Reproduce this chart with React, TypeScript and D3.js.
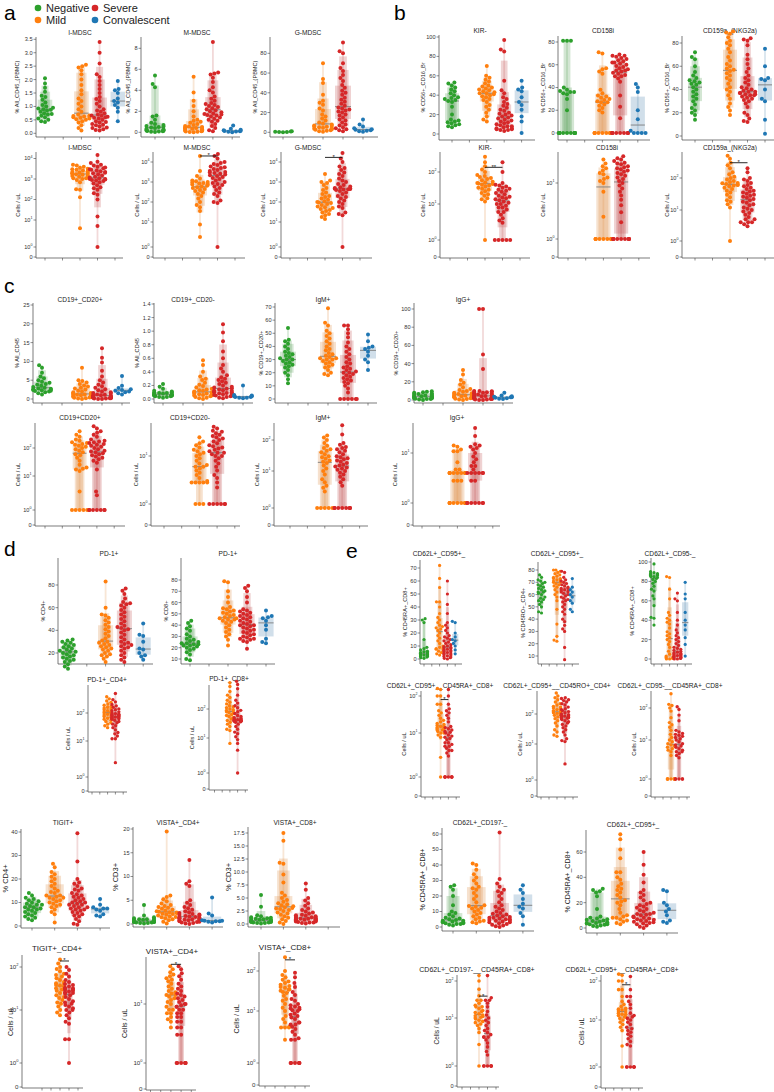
import React from "react";
import * as d3 from "d3";

const CATEGORIES = ["Negative", "Mild", "Severe", "Convalescent"];
const COLORS = ["#2ca02c", "#ff7f0e", "#d62728", "#1f77b4"];

// ---------- a: MDSC ----------
const imdscPctNeg = [0.42,0.45,0.5,0.55,0.6,0.65,0.7,0.72,0.75,0.8,0.85,0.88,0.9,0.92,0.95,1.0,1.05,1.15,1.25,1.35,1.4,1.55,1.7,1.85,2.05];
const imdscPctMild = [0.1,0.2,0.3,0.4,0.45,0.5,0.52,0.55,0.58,0.6,0.62,0.63,0.64,0.66,0.7,0.8,0.9,1.0,1.1,1.2,1.3,1.45,1.6,1.8,2.0,2.2,2.35,2.45,2.5,2.55];
const imdscPctSev = [0.1,0.12,0.15,0.2,0.22,0.25,0.3,0.32,0.35,0.4,0.42,0.45,0.5,0.55,0.58,0.6,0.62,0.65,0.66,0.7,0.75,0.8,0.85,0.9,1.0,1.1,1.2,1.28,1.35,1.5,1.65,1.8,1.95,2.1,2.2,2.6,3.0,3.4];
const imdscPctConv = [0.45,0.8,0.95,1.05,1.15,1.2,1.3,1.5,1.6,1.65,1.95];
const mmdscPctNeg = [0.02,0.05,0.08,0.1,0.12,0.15,0.18,0.2,0.25,0.3,0.35,0.4,0.45,0.5,0.55,0.6,0.7,0.8,0.9,1.2,1.5,1.6,4.3,4.6,5.4];
const mmdscPctMild = [0,0.02,0.05,0.08,0.1,0.12,0.15,0.2,0.25,0.3,0.35,0.38,0.4,0.42,0.45,0.5,0.55,0.6,0.7,0.8,0.9,1.0,1.1,1.2,1.5,2.0,2.5,3.0,3.8,5.3];
const mmdscPctSev = [0.1,0.2,0.4,0.6,0.8,1.0,1.1,1.2,1.3,1.4,1.5,1.6,1.65,1.7,1.75,1.8,1.9,2.0,2.1,2.2,2.3,2.4,2.5,2.6,2.7,2.8,3.0,3.2,3.4,3.8,4.0,4.3,4.8,5.2,5.5,5.6,5.7,8.6];
const mmdscPctConv = [0,0.05,0.08,0.1,0.12,0.15,0.2,0.25,0.35,0.65];
const gmdscPctNeg = [0,0.2,0.3,0.5,0.8,1];
const gmdscPctMild = [0.5,1,1.5,2,2.5,3,3.5,4,4.5,5,5.5,6,6.5,7,8,9,10,12,14,16,18,22,24,28,30,32,38,50,54,70];
const gmdscPctSev = [1,2,3,4,5,7,8,10,12,13,15,17,18,20,21,22,23,24,25,27,29,31,33,35,38,40,42,45,48,52,55,58,62,65,70,80,82,91];
const gmdscPctConv = [0.5,1,1.5,2,2.5,3,4,6,8,13];
const imdscCellsMild = [5,130,300,320,700,900,1000,1100,1100,1200,1300,1400,1500,1600,1700,1800,1800,1900,2000,2100,2200,2400,2600,2800,3000,3200,3500,4000,4500,5000];
const imdscCellsSev = [1,6,15,100,170,200,300,350,400,500,600,700,800,850,900,950,1000,1000,1100,1200,1300,1500,1700,1900,2000,2200,2400,2600,2800,3000,3300,3600,4000,4500,5000,6000,7000,15000];
const mmdscCellsMild = [2.5,8,35,55,70,100,150,200,250,300,350,400,450,500,550,600,650,700,750,800,850,900,950,1000,1100,1200,1500,2000,3500,20000];
const mmdscCellsSev = [1,90,100,120,200,250,300,400,500,600,700,800,900,1000,1200,1400,1600,1800,2000,2200,2400,2600,2800,3000,3200,3500,4000,4500,5000,5500,6000,7000,8000,9000,10000,15000,20000,25000];
const gmdscCellsMild = [14,18,22,25,30,35,40,45,50,55,60,70,80,90,95,100,110,130,150,180,200,250,300,400,500,700,900,1000,1200,2500];
const gmdscCellsSev = [1,22,25,30,50,60,80,100,120,150,180,200,250,300,350,400,420,440,450,460,480,500,550,600,700,800,1000,1200,1500,2000,2500,3000,4000,5000,6000,10000,15000,28000];

// ---------- b: NK ----------
const kirPctNeg = [7,8,9,10,11,12,13,14,15,20,28,33,34,35,36,37,38,40,42,44,46,48,50,52,53];
const kirPctMild = [13,15,18,22,25,28,30,33,35,36,38,39,40,41,42,42,43,44,45,46,47,48,49,50,52,54,56,58,60,70];
const kirPctSev = [3,4,4,5,5,6,6,7,8,8,9,10,11,12,13,14,15,16,17,18,19,20,21,22,24,25,27,29,31,33,36,38,42,45,55,85,87,97];
const kirPctConv = [1,13,18,25,30,33,38,44,46,48,55];
const cd158iPctNeg = [0,0,0,0,0,0,0,0,0,0,0,0,0,20,30,34,35,36,36,37,38,40,81,81,81];
const cd158iPctMild = [0,0,0,0,0,0,0,0,0,18,20,22,24,25,27,27,28,29,30,31,32,33,35,38,52,54,56,57,70,71];
const cd158iPctSev = [0,0,0,0,0,0,0,0,0,13,23,33,45,48,50,50,51,52,53,54,55,55,56,57,58,59,60,61,62,62,63,64,65,66,67,68,68,69];
const cd158iPctConv = [0,0,0,0,2,12,20,36,40,43];
const nkg2aPctNeg = [14,18,20,22,24,27,30,32,34,36,38,40,42,44,45,46,47,48,50,52,55,60,66,68,72];
const nkg2aPctMild = [18,22,25,28,32,35,38,40,42,45,48,50,52,54,56,57,58,60,62,65,68,72,75,78,80,82,85,88,89,90];
const nkg2aPctSev = [12,13,15,18,20,25,28,30,31,32,33,34,35,35,36,36,37,37,38,38,39,40,41,42,44,46,48,50,52,55,58,62,66,70,78,82,83,84];
const nkg2aPctConv = [2,14,30,32,40,48,49,50,60,75];
const kirCellsMild = [1,12,14,15,18,20,22,25,28,30,32,35,38,40,42,44,45,47,50,55,60,65,70,75,80,100,120,150,200,300];
const kirCellsSev = [1,1,1,1,1,3,3.5,4,5,6,6,7,8,8,9,10,10,11,12,13,14,15,16,17,18,20,22,24,26,28,30,32,35,38,40,45,100,200];
const cd158iCellsMild = [1,1,1,1,1,1,1,1,1,2.5,7,10,11,12,13,15,16,18,20,22,25,30];
const cd158iCellsSev = [1,1,1,1,1,1,1,1,1,1,2,3,4,5,6,7,8,9,10,11,12,13,14,15,16,17,18,19,20,21,22,24,25,26,28,30,32,35];
const nkg2aCellsMild = [1,12,15,18,20,25,30,35,40,45,50,55,58,60,62,65,68,70,75,80,90,100,110,130,150,200,250,300,400,500];
const nkg2aCellsSev = [3,3.5,4,4,4,5,5,6,7,8,9,10,11,12,14,15,17,18,20,22,24,26,28,30,32,35,38,40,45,50,55,60,70,80,90,100,150,200];

// ---------- c: B cells ----------
const cd20posPctNeg = [1.2,1.5,1.8,2,2.1,2.2,2.3,2.4,2.5,2.6,2.7,2.8,3,3.2,3.5,3.8,4,4.3,4.6,5,5.5,6,7,8.3,9];
const cd20posPctMild = [0,0.1,0.2,0.3,0.4,0.5,0.6,0.7,0.8,0.9,1,1.1,1.2,1.3,1.3,1.4,1.6,1.8,2,2.2,2.5,2.8,3,3.3,3.6,4,4.4,4.8,5,8.3];
const cd20posPctSev = [0,0,0.1,0.1,0.2,0.2,0.3,0.3,0.4,0.4,0.5,0.5,0.6,0.6,0.7,0.7,0.8,0.8,0.9,1,1.1,1.2,1.4,1.6,1.8,2,2.3,2.6,3,3.4,3.8,4.4,5,6,7.5,9.7,11,13.5];
const cd20posPctConv = [1.2,1.5,1.8,2,2.2,2.4,2.6,2.9,3.5,6.1];
const cd20negPctNeg = [0.02,0.03,0.03,0.04,0.04,0.05,0.05,0.05,0.06,0.06,0.06,0.07,0.07,0.07,0.08,0.08,0.09,0.09,0.1,0.1,0.11,0.12,0.15,0.18,0.22];
const cd20negPctMild = [0,0.01,0.02,0.03,0.04,0.05,0.05,0.06,0.07,0.07,0.08,0.08,0.09,0.1,0.1,0.11,0.12,0.13,0.14,0.15,0.17,0.19,0.21,0.24,0.28,0.3,0.33,0.4,0.5,0.57];
const cd20negPctSev = [0.01,0.02,0.03,0.04,0.05,0.05,0.06,0.07,0.08,0.08,0.09,0.1,0.1,0.11,0.12,0.12,0.13,0.14,0.15,0.16,0.17,0.18,0.2,0.22,0.24,0.26,0.28,0.3,0.32,0.35,0.4,0.45,0.5,0.6,0.7,0.85,0.98,1.1];
const cd20negPctConv = [0.01,0.02,0.02,0.03,0.03,0.04,0.04,0.05,0.06,0.2];
const igmPctNeg = [12,15,18,20,22,24,25,26,27,28,29,30,30,31,32,33,34,35,36,38,40,42,44,45,54];
const igmPctMild = [18,19,20,22,24,25,26,27,28,29,30,30,31,31,32,33,34,35,37,38,40,42,44,46,48,50,52,56,58,69];
const igmPctSev = [0,0,0,0,0,0,5,8,10,12,13,14,15,16,17,18,19,20,20,21,22,23,24,25,27,28,30,32,34,36,38,40,43,47,50,53,56,56];
const igmPctConv = [22,28,30,33,36,38,39,40,44,49];
const iggPctNeg = [0,0.5,1,1,1.5,2,2,2.5,3,3,3.5,4,4,4.5,5,5,5.5,6,6.5,7,7.5,8,8.5,9,9.5];
const iggPctMild = [0,0.5,1,1.5,2,2.5,3,3,3.5,4,4,4.5,5,5,5.5,6,6.5,7,7.5,8,9,10,11,12,14,17,19,22,28,33];
const iggPctSev = [0,0,0.5,0.5,1,1,1.5,1.5,2,2,2.5,2.5,3,3,3.5,3.5,4,4,4.5,5,5,5.5,6,6.5,7,7.5,8,8.5,9,9,9.5,10,10,34,50,100,100];
const iggPctConv = [1,1.5,2,2.5,3,3,3.5,4,5,8];
const cd20posCellsMild = [1,1,1,1,1,3.5,15,17,18,20,25,35,45,55,60,70,80,90,100,110,120,130,140,150,160,180,200,250,300,400];
const cd20posCellsSev = [1,1,1,1,1,1,1,2.7,3.5,17,30,35,40,45,50,55,60,65,70,75,80,90,100,110,120,130,140,150,160,170,180,200,250,300,350,400,500,600];
const cd20negCellsMild = [1,1,1,2.8,2.8,2.8,2.8,2.8,3,3.5,4,4.5,5,5.5,6,6,6.5,7,8,9,10,11,12,13,14,16,18,20,22,28];
const cd20negCellsSev = [1,1,1,1,1,1,2.2,2.8,3.5,4,5,6,7,8,9,10,10,11,12,12,13,14,15,16,17,18,20,22,24,26,28,30,32,35,38,40,45,50];
const igmCellsMild = [1,1,1,1,1,2.8,3.5,4,5,6,8,10,12,15,18,20,22,25,28,30,35,40,45,50,55,65,80,100,120,140];
const igmCellsSev = [1,1,1,1,1,1,1,1,4,5,6,7,8,9,10,11,12,13,14,15,16,18,20,22,24,26,28,30,35,40,45,50,55,60,70,80,150,300];
const iggCellsMild = [1,1,1,1,1,1,1,1,1,1,2.8,2.8,2.8,4,4,4,4,4,4,4,4,4,4.7,4.7,6.5,11,11,12,14,15];
const iggCellsSev = [1,1,1,1,1,1,1,2.8,2.8,4,4,4,4,4,4,4.7,5.5,5.5,6.5,7.5,8.5,10,12,13,14,15,16,25,38];

// ---------- d: checkpoints ----------
const pd1Cd4PctNeg = [6,8,10,12,13,14,15,16,17,18,19,20,21,21,22,23,24,25,26,27,28,29,30,31,32];
const pd1Cd4PctMild = [12,15,17,18,19,20,22,23,24,25,26,27,28,29,30,31,33,35,37,39,41,43,45,47,49,51,53,54,60,83];
const pd1Cd4PctSev = [12,14,16,18,20,22,24,25,26,27,28,29,30,32,34,36,38,40,41,42,43,44,46,48,50,52,54,56,58,60,62,63,64,65,68,72,75,77];
const pd1Cd4PctConv = [14,17,18,20,23,24,30,35,36,46];
const pd1Cd8PctNeg = [9,10,14,16,18,19,20,21,22,22,23,23,24,24,25,26,27,28,30,32,35,37,39,42,44];
const pd1Cd8PctMild = [22,27,30,32,34,36,38,40,42,43,44,45,45,46,46,47,48,49,50,51,52,53,54,55,56,60,65,70,78,79];
const pd1Cd8PctSev = [19,25,26,27,28,28,29,30,31,32,33,34,35,36,37,38,39,40,40,41,42,43,44,45,46,47,48,49,50,51,52,53,54,60,65,70,73,75];
const pd1Cd8PctConv = [24,25,28,36,40,44,46,47,48,53];
const pd1Cd4CellsMild = [30,35,40,45,50,55,60,65,70,75,80,85,90,95,100,105,110,115,120,130,140,150,160,170,190,210,240,270,320,380];
const pd1Cd4CellsSev = [2.5,12,12,15,18,20,25,30,35,40,45,50,55,60,62,65,68,70,72,75,78,80,82,85,88,90,95,100,110,120,130,140,160,180,200,250,300,500];
const pd1Cd8CellsMild = [7,18,20,25,30,35,40,45,50,55,60,65,70,75,80,85,90,95,100,110,120,130,150,170,200,250,300,400,600,800];
const pd1Cd8CellsSev = [1,4.5,7,9,11,14,16,20,25,30,35,36,38,38,39,40,40,41,41,42,42,43,45,48,50,55,60,70,80,90,110,130,160,200,300,500,700,900];
const tigitPctNeg = [2.5,3,3.5,4,4.5,5,5.5,6,6.5,7,7,7.5,8,8,8.5,9,9,9.5,10,10.5,11,11.5,12,13,14];
const tigitPctMild = [1.5,5,6,7,8,8.5,9,9.5,10,10.5,11,11.5,12,12,12.5,13,13,14,14.5,15,16,17,18,19,20,21,22,23,25,26.5];
const tigitPctSev = [0.5,1,2,3,4,4.5,5,5.5,6,6.5,7,7,7.5,8,8,8.5,9,9,9.5,10,10,10.5,11,11.5,12,12.5,13,13.5,14,15,15.5,16,17,18,18.5,20,27.5,39.5];
const tigitPctConv = [4,4.5,5,6.5,7,7.5,7.5,8,9,11.5];
const vistaCd4PctNeg = [0.1,0.2,0.2,0.3,0.3,0.4,0.4,0.5,0.5,0.5,0.6,0.6,0.6,0.7,0.7,0.8,0.8,0.9,1,1,1.1,1.2,1.4,1.8,4];
const vistaCd4PctMild = [0.1,0.5,0.8,1,1.2,1.4,1.5,1.6,1.8,2,2.1,2.2,2.3,2.4,2.5,2.6,2.7,2.8,3,3.2,3.4,3.6,3.8,4,4.3,4.8,5.2,5.7,6,19.5];
const vistaCd4PctSev = [0,0.1,0.2,0.3,0.4,0.5,0.6,0.7,0.8,0.8,0.9,1,1,1.1,1.2,1.2,1.3,1.4,1.5,1.6,1.7,1.8,1.9,2,2.1,2.3,2.5,2.7,3,3.3,3.6,4,4.5,5,8,8.5,9,13.5];
const vistaCd4PctConv = [0.3,0.5,0.6,0.6,0.7,0.7,0.8,1.8,2.2,5.6];
const vistaCd8PctNeg = [0.1,0.2,0.2,0.3,0.3,0.4,0.4,0.5,0.5,0.6,0.6,0.7,0.7,0.8,0.8,0.9,1,1,1.1,1.2,1.3,1.5,1.7,3.3,5.6];
const vistaCd8PctMild = [0,0.3,0.6,0.9,1.2,1.5,1.8,2,2.2,2.5,2.7,2.9,3,3.1,3.2,3.4,3.6,3.8,4,4.3,4.6,5,5.5,6,8,9.5,11.6,11.8,16,17.5];
const vistaCd8PctSev = [0.1,0.2,0.3,0.3,0.4,0.5,0.5,0.6,0.6,0.7,0.7,0.8,0.8,0.9,0.9,1,1,1,1.1,1.2,1.2,1.3,1.4,1.5,1.6,1.7,1.8,2,2.2,2.4,2.7,3,3.5,4,4.5,5,6.6,7.8];
const tigitCellsMild = [8,9,10,12,14,15,17,19,20,22,25,28,30,32,35,37,38,40,42,45,50,55,60,65,70,80,90,100,120,150];
const tigitCellsSev = [1,2.8,2.8,5.5,6,7,8,9,10,10,11,12,13,14,15,16,18,20,22,24,25,26,27,28,29,30,31,32,33,35,38,40,45,50,60,70,85,100];
const vistaCd4CellsMild = [4,5,5.5,6,7,7,8,8,9,10,11,12,13,14,15,15,16,17,18,20,22,25,28,30,32,35,38,42,48,55];
const vistaCd4CellsSev = [1,1,1,1,1,1,3,3,4,4,5,5,6,6,7,7,8,8,9,9,9.5,10,10,11,12,13,14,15,16,18,20,22,25,30,35,40,48,55];
const vistaCd8CellsMild = [2.8,4.8,4.8,4.8,5,6,7,8,10,12,15,18,20,24,28,30,32,34,35,38,40,42,45,50,55,60,70,80,100,220];
const vistaCd8CellsSev = [1,1,1,1,1,1,2.8,2.8,3,3.5,4,4.5,5,5.5,5.5,6,6,7,7.5,8,8.5,9,10,10.5,11,11.5,12,13,14,15,18,20,25,30,40,50,70,90];

// ---------- e: memory subsets ----------
const cd95posRaPctNeg = [0.5,1,1.5,2,2,2.5,2.5,3,3,3.5,3.5,4,4,4.5,5,5,5.5,6,7,8,9,15,28,30,31];
const cd95posRaPctMild = [3,4,5,6,7,7.5,8,8,9,10,12,14,16,18,20,22,23,24,25,26,28,30,32,35,40,44,44,55,62,72];
const cd95posRaPctSev = [0,0.5,1,1.5,2,2.5,3,3.5,4,4.5,5,5.5,6,6.5,7,7.5,8,8.5,9,9.5,10,11,12,13,14,15,16,17,18,20,22,24,26,28,35,42,50,60];
const cd95posRaPctConv = [4,7,10,12,14,15,17,20,28,29];
const cd95posRoPctNeg = [45,46,50,52,54,55,56,57,58,60,61,62,62,63,64,65,66,67,68,69,70,71,72,74,76];
const cd95posRoPctMild = [22,23,26,36,48,55,58,60,62,64,66,67,68,69,70,70,71,71,72,72,73,73,74,75,76,77,78,79,80,80];
const cd95posRoPctSev = [7,17,30,32,35,38,40,44,46,48,50,52,54,55,56,57,58,59,60,61,62,62,63,63,64,64,65,65,66,67,68,69,70,71,72,74,78,79];
const cd95posRoPctConv = [46,48,53,55,58,60,62,64,66,73];
const cd95negRaPctNeg = [35,42,43,55,62,65,70,72,75,78,80,82,83,84,85,85,86,86,87,87,88,88,89,90,98];
const cd95negRaPctMild = [0,0,0.5,1,1,1.5,2,2,3,5,8,12,15,18,20,22,24,26,28,32,36,38,40,42,45,48,62,72,84,85];
const cd95negRaPctSev = [0,0,0.5,1,1,1.5,2,2,2.5,3,3,3.5,4,4.5,5,5.5,6,6.5,7,8,9,10,11,12,14,16,18,20,22,24,27,30,35,40,48,60,62,68];
const cd95negRaPctConv = [3,15,22,30,35,40,48,62,67,79];
const cd95posRaCellsMild = [1,2.8,8,9,10,10,11,12,12,13,13,14,14,15,15,16,17,18,20,22,25,30,35,40,60,60,100,100,150,160];
const cd95posRaCellsSev = [1,1,1,1,1,1,1,3,3.5,4,4,4.5,5,5,5.5,6,6,7,7.5,8,8.5,9,10,10.5,11,12,13,14,15,20,25,30,35,40,45,60,100,150];
const cd95posRoCellsMild = [18,20,25,30,40,50,60,70,80,90,95,100,105,110,115,120,125,130,140,150,160,170,180,200,220,250,300,350,400,500];
const cd95posRoCellsSev = [2.8,12,13,15,20,25,30,35,40,45,50,55,60,65,70,72,75,78,80,82,85,88,90,95,100,110,120,130,140,150,170,200,220,250,280,300,330,350];
const cd95negRaCellsMild = [1,1,1,1,1,1,1,1,4,5,5.5,6,6.5,7,7.5,8,9,10,12,15,20,25,30,35,50,80,100,120,130,280];
const cd95negRaCellsSev = [1,1,1,1,1,3.5,4,4.5,5,5,5.5,6,6.5,7,7.5,8,9,10,11,12,13,14,15,16,18,20,40,60,90,110];
const cd197negRaPctNeg = [1,1.5,2,2,2.5,2.5,3,3,3.5,3.5,4,4,4.5,5,5.5,6,7,8,9,10,14,20,24,26,27];
const cd197negRaPctMild = [2.5,3,3.5,4,5,6,7,8,9,10,11,12,12.5,13,13.5,14,16,18,20,22,24,25,26,28,30,32,34,37,40,41];
const cd197negRaPctSev = [0,0.5,1,1.5,2,2.5,3,3,3.5,4,4,4.5,5,5,5.5,6,6,6.5,7,7.5,8,8.5,9,10,11,12,13,14,16,18,20,22,23,24,26,28,31,61];
const cd197negRaPctConv = [1.5,7,9,12,13,15,18,22,24,27];
const cd95posRa2PctNeg = [1,1.5,2,2.5,3,3,3.5,3.5,4,4,4.5,5,5.5,6,6.5,7,7.5,8,9,15,25,28,29,30,31];
const cd95posRa2PctMild = [3,4,5,6,7,8,8,9,10,12,15,18,20,21,22,24,26,28,30,31,33,35,38,40,44,44,55,62,70,74];
const cd95posRa2PctSev = [0,1,2,3,3.5,4,4.5,5,5.5,6,6.5,7,7.5,8,8.5,9,10,10.5,11,11,12,13,14,15,16,17,18,19,20,22,24,26,28,30,36,42,50,60];
const cd95posRa2PctConv = [4,5,6,10,13,15,18,20,29,30];
const cd197negRaCellsMild = [1,2.8,5,6,7,7.5,8,8.5,9,9.5,10,10.5,11,11.5,12,13,14,15,16,18,20,20,22,25,30,30,40,60,100,140];
const cd197negRaCellsSev = [1,1,1,1,1,1,1.7,2,2.5,3,3.5,4,4,4,4.5,5,5.5,6,7,8,9,10,12,15,20,25,30,30,35,140];
const cd95posRa2CellsMild = [1,2.8,6,7,8,9,10,11,12,12,13,14,14,15,16,17,18,18,19,20,22,25,30,40,60,60,100,100,140,150];
const cd95posRa2CellsSev = [1,1,1,1,1,1,2.8,3,3.5,4,4.5,5,5.5,6,6.5,7,8,9,10,11,12,13,15,20,25,30,40,40,60,130];

// ---------- panel table ----------
type Grp = [number, number, number[]];
type Panel = {
  t: string; tx: number; ty: number; tf?: number;
  yl: string; lx: number; lf?: number; kf?: number;
  ax: number; xr: number; yt: number; yb: number;
  s0: number; ds: number; n: number; r?: number;
  lin?: [number, number, number, number]; ticks?: number[]; dec?: number;
  log?: [number, number, number, number]; exps?: number[];
  g: Grp[]; sig?: [number, string];
};

const five = (a: number[], b: number[], c: number[], d: number[]): Grp[] => [[0, 0, a], [1, 2, b], [2, 3, c], [3, 4, d]];
const four = (a: number[], b: number[], c: number[], d?: number[]): Grp[] =>
  d ? [[0, 0, a], [1, 1, b], [2, 2, c], [3, 3, d]] : [[0, 0, a], [1, 1, b], [2, 2, c]];
const two = (b: number[], c: number[]): Grp[] => [[1, 2, b], [2, 3, c]];
const CELLS = "Cells / uL";

const PANELS: Panel[] = [
  // a top
  { t: "I-MDSC", tx: 80, ty: 35, yl: "% All_CD45_(PBMC)", lx: 17, ax: 36, xr: 130, yt: 37, yb: 137, s0: 45, ds: 18.2, n: 5,
    lin: [0, 133.3, 3.5, 39.3], ticks: [0, 0.5, 1, 1.5, 2, 2.5, 3, 3.5], dec: 1, g: five(imdscPctNeg, imdscPctMild, imdscPctSev, imdscPctConv) },
  { t: "M-MDSC", tx: 197, ty: 35, yl: "% All_CD45_(PBMC)", lx: 128, ax: 141, xr: 240, yt: 37, yb: 137, s0: 155, ds: 19.3, n: 5,
    lin: [0, 132.3, 8, 48.3], ticks: [0, 2, 4, 6, 8], dec: 0, g: five(mmdscPctNeg, mmdscPctMild, mmdscPctSev, mmdscPctConv) },
  { t: "G-MDSC", tx: 308, ty: 35, yl: "% All_CD45_(PBMC)", lx: 255, ax: 270, xr: 378, yt: 37, yb: 137, s0: 283, ds: 20, n: 5,
    lin: [0, 132.3, 80, 53.3], ticks: [0, 20, 40, 60, 80], dec: 0, g: five(gmdscPctNeg, gmdscPctMild, gmdscPctSev, gmdscPctConv) },
  // a bottom
  { t: "I-MDSC", tx: 80, ty: 150, yl: CELLS, lx: 18, ax: 36, xr: 123, yt: 152, yb: 258, s0: 45, ds: 17.5, n: 5,
    log: [257, 247, 220, 199.5], exps: [0, 1, 2, 3, 4], g: two(imdscCellsMild, imdscCellsSev) },
  { t: "M-MDSC", tx: 197, ty: 150, yl: CELLS, lx: 137, ax: 153, xr: 245, yt: 152, yb: 258, s0: 165, ds: 17.5, n: 5,
    log: [257, 247, 222, 202], exps: [0, 1, 2, 3, 4], g: two(mmdscCellsMild, mmdscCellsSev), sig: [20000, "*"] },
  { t: "G-MDSC", tx: 308, ty: 150, yl: CELLS, lx: 263, ax: 281, xr: 372, yt: 152, yb: 258, s0: 290, ds: 17.5, n: 5,
    log: [257, 247, 222, 202], exps: [0, 1, 2, 3, 4], g: two(gmdscCellsMild, gmdscCellsSev), sig: [17000, "*"] },
  // b top
  { t: "KIR-", tx: 480, ty: 33, yl: "% CD56+_CD16_Br", lx: 423, ax: 439, xr: 535, yt: 35, yb: 140, s0: 452, ds: 17.4, n: 5,
    lin: [0, 134, 100, 37], ticks: [0, 20, 40, 60, 80, 100], dec: 0, g: five(kirPctNeg, kirPctMild, kirPctSev, kirPctConv) },
  { t: "CD158i", tx: 603, ty: 33, yl: "% CD56+_CD16_Br", lx: 543, ax: 558, xr: 650, yt: 36, yb: 140, s0: 567, ds: 17.7, n: 5,
    lin: [0, 133, 80, 42], ticks: [0, 20, 40, 60, 80], dec: 0, g: five(cd158iPctNeg, cd158iPctMild, cd158iPctSev, cd158iPctConv) },
  { t: "CD159a_(NKG2a)", tx: 730, ty: 33, yl: "% CD56+_CD16_Br", lx: 667, ax: 682, xr: 775, yt: 36, yb: 140, s0: 695, ds: 17.5, n: 5,
    lin: [0, 136, 80, 43], ticks: [0, 20, 40, 60, 80], dec: 0, g: five(nkg2aPctNeg, nkg2aPctMild, nkg2aPctSev, nkg2aPctConv) },
  // b bottom
  { t: "KIR-", tx: 485, ty: 150, yl: CELLS, lx: 423, ax: 440, xr: 530, yt: 152, yb: 258, s0: 450, ds: 17.5, n: 5,
    log: [257, 240, 204, 172], exps: [0, 1, 2], g: two(kirCellsMild, kirCellsSev), sig: [140, "**"] },
  { t: "CD158i", tx: 607, ty: 150, yl: CELLS, lx: 543, ax: 558, xr: 650, yt: 152, yb: 258, s0: 568, ds: 17.7, n: 5,
    log: [257, 239, 183, 134], exps: [0, 1], g: two(cd158iCellsMild, cd158iCellsSev) },
  { t: "CD159a_(NKG2a)", tx: 730, ty: 150, yl: CELLS, lx: 667, ax: 682, xr: 775, yt: 152, yb: 258, s0: 695, ds: 17.5, n: 5,
    log: [257, 241, 210, 178], exps: [0, 1, 2], g: two(nkg2aCellsMild, nkg2aCellsSev), sig: [300, "*"] },
  // c top
  { t: "CD19+_CD20+", tx: 80, ty: 302, yl: "% All_CD45", lx: 17, ax: 33, xr: 130, yt: 303, yb: 403, s0: 42, ds: 20, n: 5,
    lin: [0, 399, 25, 305], ticks: [0, 5, 10, 15, 20, 25], dec: 0, g: five(cd20posPctNeg, cd20posPctMild, cd20posPctSev, cd20posPctConv) },
  { t: "CD19+_CD20-", tx: 193, ty: 302, yl: "% All_CD45", lx: 137, ax: 154, xr: 253, yt: 303, yb: 403, s0: 163, ds: 20, n: 5,
    lin: [0, 399, 1.4, 304], ticks: [0, 0.2, 0.4, 0.6, 0.8, 1.0, 1.2, 1.4], dec: 1, g: five(cd20negPctNeg, cd20negPctMild, cd20negPctSev, cd20negPctConv) },
  { t: "IgM+", tx: 323, ty: 302, yl: "% CD19+_CD20+", lx: 261, ax: 275, xr: 377, yt: 303, yb: 403, s0: 288, ds: 20, n: 5,
    lin: [0, 399, 70, 307], ticks: [0, 10, 20, 30, 40, 50, 60, 70], dec: 0, g: five(igmPctNeg, igmPctMild, igmPctSev, igmPctConv) },
  { t: "IgG+", tx: 463, ty: 302, yl: "% CD19+_CD20+", lx: 396, ax: 414, xr: 513, yt: 303, yb: 403, s0: 423, ds: 20, n: 5,
    lin: [0, 400, 100, 309], ticks: [0, 20, 40, 60, 80, 100], dec: 0, g: five(iggPctNeg, iggPctMild, iggPctSev, iggPctConv) },
  // c bottom
  { t: "CD19+CD20+", tx: 80, ty: 420, yl: CELLS, lx: 18, ax: 35, xr: 125, yt: 423, yb: 526, s0: 45, ds: 17.3, n: 5,
    log: [525, 510, 476, 448], exps: [0, 1, 2], g: two(cd20posCellsMild, cd20posCellsSev) },
  { t: "CD19+CD20-", tx: 190, ty: 420, yl: CELLS, lx: 136, ax: 151, xr: 240, yt: 423, yb: 526, s0: 164, ds: 17.7, n: 5,
    log: [525, 504, 456, 414], exps: [0, 1], g: two(cd20negCellsMild, cd20negCellsSev) },
  { t: "IgM+", tx: 323, ty: 420, yl: CELLS, lx: 257, ax: 274, xr: 368, yt: 423, yb: 526, s0: 290, ds: 17.4, n: 5,
    log: [525, 508, 471, 440], exps: [0, 1, 2], g: two(igmCellsMild, igmCellsSev) },
  { t: "IgG+", tx: 457, ty: 420, yl: CELLS, lx: 395, ax: 413, xr: 500, yt: 423, yb: 526, s0: 422, ds: 17.7, n: 5,
    log: [525, 503, 453, 410], exps: [0, 1], g: two(iggCellsMild, iggCellsSev) },
  // d top
  { t: "PD-1+", tx: 109, ty: 556, yl: "% CD4+", lx: 43, ax: 58, xr: 153, yt: 558, yb: 664, s0: 68, ds: 18.8, n: 5,
    lin: [20, 653, 80, 585], ticks: [20, 40, 60, 80], dec: 0, g: five(pd1Cd4PctNeg, pd1Cd4PctMild, pd1Cd4PctSev, pd1Cd4PctConv) },
  { t: "PD-1+", tx: 228, ty: 556, yl: "% CD8+", lx: 166, ax: 181, xr: 275, yt: 558, yb: 664, s0: 190, ds: 19, n: 5,
    lin: [10, 659, 80, 580], ticks: [10, 20, 30, 40, 50, 60, 70, 80], dec: 0, g: five(pd1Cd8PctNeg, pd1Cd8PctMild, pd1Cd8PctSev, pd1Cd8PctConv) },
  // d middle
  { t: "PD-1+_CD4+", tx: 107, ty: 682, yl: CELLS, lx: 68, ax: 88, xr: 127, yt: 685, yb: 792, s0: 92, ds: 7.8, n: 5, r: 1.7,
    log: [791, 777, 741, 713], exps: [0, 1, 2], g: two(pd1Cd4CellsMild, pd1Cd4CellsSev) },
  { t: "PD-1+_CD8+", tx: 229, ty: 681, yl: CELLS, lx: 192, ax: 209, xr: 248, yt: 685, yb: 790, s0: 214.5, ds: 7.7, n: 5, r: 1.7,
    log: [789, 773, 738, 709], exps: [0, 1, 2], g: two(pd1Cd8CellsMild, pd1Cd8CellsSev) },
  // d lower
  { t: "TIGIT+", tx: 63, ty: 825, yl: "% CD4+", lx: 5, lf: 7.5, ax: 21, xr: 110, yt: 829, yb: 928, s0: 32, ds: 22.7, n: 4,
    lin: [0, 926, 40, 832], ticks: [0, 10, 20, 30, 40], dec: 0, g: four(tigitPctNeg, tigitPctMild, tigitPctSev, tigitPctConv) },
  { t: "VISTA+_CD4+", tx: 178, ty: 825, yl: "% CD3+", lx: 115, lf: 7.5, ax: 133, xr: 223, yt: 827, yb: 927, s0: 144, ds: 22.7, n: 4,
    lin: [0, 924, 20, 829], ticks: [0, 5, 10, 15, 20], dec: 0, g: four(vistaCd4PctNeg, vistaCd4PctMild, vistaCd4PctSev, vistaCd4PctConv) },
  { t: "VISTA+_CD8+", tx: 295, ty: 825, yl: "% CD3+", lx: 228, lf: 7.5, ax: 248, xr: 340, yt: 827, yb: 927, s0: 261, ds: 22.4, n: 4,
    lin: [0, 924, 17.5, 833], ticks: [0, 2.5, 5, 7.5, 10, 12.5, 15, 17.5], dec: 1, g: four(vistaCd8PctNeg, vistaCd8PctMild, vistaCd8PctSev) },
  // d bottom
  { t: "TIGIT+_CD4+", tx: 57, ty: 951, tf: 8, yl: CELLS, lx: 11, lf: 7, kf: 6.2, ax: 22, xr: 83, yt: 955, yb: 1088, s0: 42, ds: 9, n: 5, r: 2,
    log: [1087, 1063, 1010, 967], exps: [0, 1, 2], g: two(tigitCellsMild, tigitCellsSev), sig: [138, "*"] },
  { t: "VISTA+_CD4+", tx: 172, ty: 954, tf: 8, yl: CELLS, lx: 125, lf: 7, kf: 6.2, ax: 146, xr: 196, yt: 957, yb: 1090, s0: 150.5, ds: 10.2, n: 5, r: 2,
    log: [1089, 1063, 1004, 953], exps: [0, 1], g: two(vistaCd4CellsMild, vistaCd4CellsSev), sig: [60, "*"] },
  { t: "VISTA+_CD8+", tx: 285, ty: 950, tf: 8, yl: CELLS, lx: 237, lf: 7, kf: 6.2, ax: 259, xr: 310, yt: 952, yb: 1086, s0: 265, ds: 10, n: 5, r: 2,
    log: [1085, 1063, 1011, 971], exps: [0, 1, 2], g: two(vistaCd8CellsMild, vistaCd8CellsSev), sig: [190, "*"] },
  // e top
  { t: "CD62L+_CD95+_", tx: 439, ty: 556, yl: "% CD45RA+_CD8+", lx: 405, ax: 420, xr: 462, yt: 560, yb: 664, s0: 424, ds: 7.8, n: 5, r: 1.6,
    lin: [0, 659, 70, 568], ticks: [0, 10, 20, 30, 40, 50, 60, 70], dec: 0, g: five(cd95posRaPctNeg, cd95posRaPctMild, cd95posRaPctSev, cd95posRaPctConv) },
  { t: "CD62L+_CD95+_", tx: 557, ty: 556, yl: "% CD45RO+_CD4+", lx: 523, ax: 538, xr: 579, yt: 562, yb: 664, s0: 541.5, ds: 7.7, n: 5, r: 1.6,
    lin: [10, 656, 80, 570], ticks: [10, 20, 30, 40, 50, 60, 70, 80], dec: 0, g: five(cd95posRoPctNeg, cd95posRoPctMild, cd95posRoPctSev, cd95posRoPctConv) },
  { t: "CD62L+_CD95-_", tx: 670, ty: 556, yl: "% CD45RA+_CD8+", lx: 632, ax: 651, xr: 692, yt: 558, yb: 664, s0: 654, ds: 7.8, n: 5, r: 1.6,
    lin: [0, 659, 100, 562], ticks: [0, 20, 40, 60, 80, 100], dec: 0, g: five(cd95negRaPctNeg, cd95negRaPctMild, cd95negRaPctSev, cd95negRaPctConv) },
  // e second row
  { t: "CD62L+_CD95+__CD45RA+_CD8+", tx: 440, ty: 688, yl: CELLS, lx: 404, ax: 421, xr: 460, yt: 691, yb: 797, s0: 425, ds: 7.8, n: 5, r: 1.7,
    log: [796, 777, 733, 696], exps: [0, 1, 2], g: two(cd95posRaCellsMild, cd95posRaCellsSev), sig: [80, "*"] },
  { t: "CD62L+_CD95+__CD45RO+_CD4+", tx: 557, ty: 688, yl: CELLS, lx: 520, ax: 537, xr: 578, yt: 691, yb: 797, s0: 541, ds: 8, n: 5, r: 1.7,
    log: [796, 780, 744, 714], exps: [0, 1, 2], g: two(cd95posRoCellsMild, cd95posRoCellsSev) },
  { t: "CD62L+_CD95-__CD45RA+_CD8+", tx: 670, ty: 688, yl: CELLS, lx: 634, ax: 651, xr: 690, yt: 691, yb: 797, s0: 655, ds: 8, n: 5, r: 1.7,
    log: [796, 779, 740, 708], exps: [0, 1, 2], g: two(cd95negRaCellsMild, cd95negRaCellsSev) },
  // e middle
  { t: "CD62L+_CD197-_", tx: 480, ty: 825, yl: "% CD45RA+_CD8+", lx: 423, lf: 7, ax: 442, xr: 534, yt: 828, yb: 931, s0: 453, ds: 23.3, n: 4,
    lin: [0, 927, 60, 834], ticks: [0, 10, 20, 30, 40, 50, 60], dec: 0, g: four(cd197negRaPctNeg, cd197negRaPctMild, cd197negRaPctSev, cd197negRaPctConv) },
  { t: "CD62L+_CD95+_", tx: 633, ty: 827, yl: "% CD45RA+_CD8+", lx: 568, lf: 7, ax: 586, xr: 678, yt: 830, yb: 933, s0: 597, ds: 23.3, n: 4,
    lin: [0, 928, 60, 852], ticks: [0, 20, 40, 60], dec: 0, g: four(cd95posRa2PctNeg, cd95posRa2PctMild, cd95posRa2PctSev, cd95posRa2PctConv) },
  // e bottom
  { t: "CD62L+_CD197-__CD45RA+_CD8+", tx: 477, ty: 972, tf: 7, yl: CELLS, lx: 437, lf: 6.5, ax: 457, xr: 499, yt: 975, yb: 1087, s0: 462, ds: 8.5, n: 5, r: 1.8,
    log: [1086, 1066, 1018, 981], exps: [0, 1, 2], g: two(cd197negRaCellsMild, cd197negRaCellsSev), sig: [39, "*"] },
  { t: "CD62L+_CD95+__CD45RA+_CD8+", tx: 622, ty: 972, tf: 7, yl: CELLS, lx: 582, lf: 6.5, ax: 601, xr: 643, yt: 975, yb: 1088, s0: 605.5, ds: 8.3, n: 5, r: 1.8,
    log: [1087, 1067, 1020, 981], exps: [0, 1, 2], g: two(cd95posRa2CellsMild, cd95posRa2CellsSev), sig: [80, "*"] },
];

const LETTERS: [string, number, number][] = [["a", 4, 20], ["b", 394, 20], ["c", 4, 293], ["d", 4, 556], ["e", 346, 558]];
const LEGEND: [number, number, number][] = [[0, 38, 8], [1, 38, 20], [2, 95, 8], [3, 95, 20]];

function swarm(vals: number[], yOf: (v: number) => number, r: number, maxW: number) {
  const pts = d3.sort(vals).map((v) => ({ v, y: yOf(v), x: 0 }));
  const placed: { x: number; y: number }[] = [];
  const dd = 2 * r * 0.98;
  let flip = 1;
  for (const p of pts) {
    const iv: [number, number][] = [];
    for (const q of placed) {
      const dy = Math.abs(q.y - p.y);
      if (dy < dd) {
        const dx = Math.sqrt(dd * dd - dy * dy);
        iv.push([q.x - dx, q.x + dx]);
      }
    }
    const cands = [0];
    iv.forEach(([a, b]) => cands.push(a, b));
    cands.sort((a, b) => Math.abs(a) - Math.abs(b));
    let best: number | null = null;
    for (const c of cands) {
      if (iv.every(([a, b]) => c <= a + 1e-6 || c >= b - 1e-6)) { best = c; break; }
    }
    if (best === null || Math.abs(best) > maxW) {
      best = flip * maxW;
      flip = -flip;
    }
    p.x = best;
    placed.push(p);
  }
  return pts;
}

function Subplot({ p }: { p: Panel }) {
  const tf = p.tf ?? 6.6;
  const lf = p.lf ?? 5.6;
  const kf = p.kf ?? 5.6;
  const r = p.r ?? 2.0;
  const ys = p.log
    ? d3.scaleLinear().domain([-1, 0, 1, 2]).range(p.log)
    : d3.scaleLinear().domain([p.lin![0], p.lin![2]]).range([p.lin![1], p.lin![3]]);
  const yv = (v: number) => (p.log ? ys(v > 0 ? Math.log10(v) : -1) : ys(v));
  const xs = d3.scaleLinear().domain([0, 1]).range([p.s0, p.s0 + p.ds]);
  const bw = p.ds * 0.8;
  const axis = "#444";
  const sigSlots = p.g.filter((g) => g[0] === 1 || g[0] === 2).map((g) => xs(g[1]));
  return (
    <g>
      <text x={p.tx} y={p.ty} textAnchor="middle" fontSize={tf} fill="#222">{p.t}</text>
      <text transform={`translate(${p.lx + lf * 0.35},${(p.yt + p.yb) / 2}) rotate(-90)`} textAnchor="middle" fontSize={lf} fill="#222">{p.yl}</text>
      <line x1={p.ax} x2={p.ax} y1={p.yt} y2={p.yb} stroke={axis} strokeWidth={0.7} />
      <line x1={p.ax} x2={p.xr} y1={p.yb} y2={p.yb} stroke={axis} strokeWidth={0.7} />
      {d3.range(p.n).map((i) => (
        <line key={"x" + i} x1={xs(i)} x2={xs(i)} y1={p.yb} y2={p.yb + 2.5} stroke={axis} strokeWidth={0.6} />
      ))}
      {p.lin && p.ticks!.map((t) => (
        <g key={"t" + t}>
          <line x1={p.ax - 2.5} x2={p.ax} y1={yv(t)} y2={yv(t)} stroke={axis} strokeWidth={0.6} />
          <text x={p.ax - 3.5} y={yv(t) + kf * 0.35} textAnchor="end" fontSize={kf} fill="#333">{t.toFixed(p.dec ?? 0)}</text>
        </g>
      ))}
      {p.log && [null, ...p.exps!].map((e) => {
        const y = e === null ? yv(0) : yv(Math.pow(10, e));
        return (
          <g key={"e" + e}>
            <line x1={p.ax - 2.5} x2={p.ax} y1={y} y2={y} stroke={axis} strokeWidth={0.6} />
            {e === null ? (
              <text x={p.ax - 3.5} y={y + kf * 0.35} textAnchor="end" fontSize={kf} fill="#333">0</text>
            ) : (
              <text x={p.ax - 3.5} y={y + kf * 0.35} textAnchor="end" fontSize={kf} fill="#333">
                10<tspan dy={-kf * 0.45} fontSize={kf * 0.65}>{e}</tspan>
              </text>
            )}
          </g>
        );
      })}
      {p.g.map(([cat, slot, vals]) => {
        const x = xs(slot);
        const col = COLORS[cat];
        const fill = d3.interpolateRgb(col, "#a0a0a0")(0.35);
        const s = d3.sort(vals);
        const n = s.length;
        const levels: [number, number, number][] = [];
        const fr = [0.25, 0.125, 0.0625, 0.03125];
        const wf = [1, 0.7, 0.48, 0.3];
        fr.forEach((f, i) => {
          if (i === 0 || f * n >= 1.5) levels.push([d3.quantileSorted(s, f)!, d3.quantileSorted(s, 1 - f)!, bw * wf[i]]);
        });
        const med = d3.quantileSorted(s, 0.5)!;
        const pts = swarm(vals, yv, r, p.ds * 0.44);
        return (
          <g key={"g" + cat}>
            <rect x={x - 0.9} width={1.8} y={yv(s[n - 1])} height={Math.max(0.5, yv(s[0]) - yv(s[n - 1]))} fill={fill} fillOpacity={0.22} />
            {levels.map(([lo, hi, w], i) => (
              <rect key={i} x={x - w / 2} width={w} y={yv(hi)} height={Math.max(0.6, yv(lo) - yv(hi))} fill={fill} fillOpacity={0.26} />
            ))}
            <line x1={x - bw / 2} x2={x + bw / 2} y1={yv(med)} y2={yv(med)} stroke="#7d7d7d" strokeWidth={0.9} />
            {pts.map((q, i) => (
              <circle key={i} cx={x + q.x} cy={q.y} r={r} fill={col} />
            ))}
          </g>
        );
      })}
      {p.sig && sigSlots.length === 2 && (
        <g>
          <line x1={sigSlots[0]} x2={sigSlots[1]} y1={yv(p.sig[0])} y2={yv(p.sig[0])} stroke="#111" strokeWidth={0.9} />
          <text x={(sigSlots[0] + sigSlots[1]) / 2} y={yv(p.sig[0]) + 1.5} textAnchor="middle" fontSize={6} fill="#111">{p.sig[1]}</text>
        </g>
      )}
    </g>
  );
}

export default function App() {
  return (
    <svg width={774} height={1092} viewBox="0 0 774 1092"
      style={{ position: "absolute", left: 0, top: 0, background: "#fff" }}
      fontFamily="'Liberation Sans', Arial, sans-serif">
      <rect width={774} height={1092} fill="#fff" />
      {LETTERS.map(([l, x, y]) => (
        <text key={l} x={x} y={y} fontSize={21} fill="#000">{l}</text>
      ))}
      {LEGEND.map(([c, x, y]) => (
        <g key={c}>
          <circle cx={x} cy={y} r={3.3} fill={COLORS[c]} />
          <text x={x + 8} y={y + 4} fontSize={11} fill="#222">{CATEGORIES[c]}</text>
        </g>
      ))}
      {PANELS.map((p, i) => <Subplot key={i} p={p} />)}
    </svg>
  );
}
